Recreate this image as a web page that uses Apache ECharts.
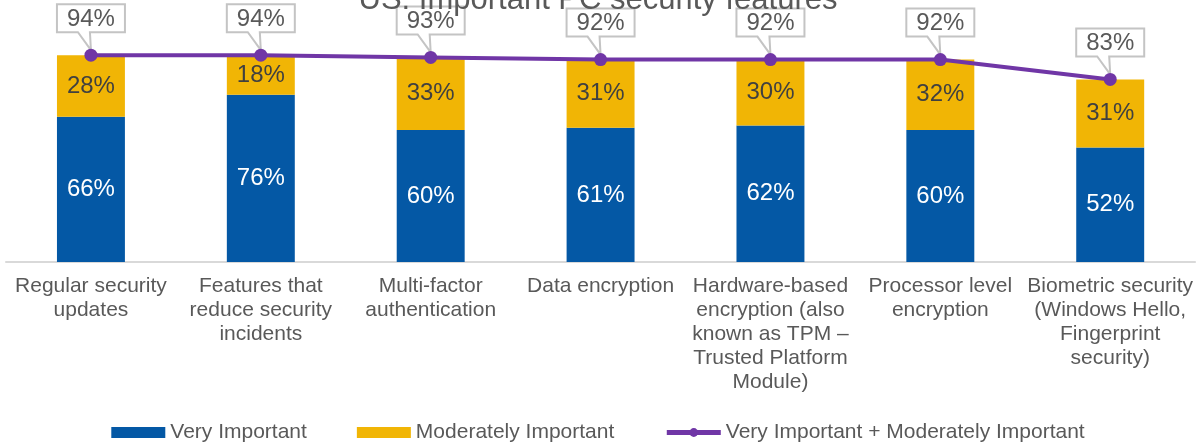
<!DOCTYPE html>
<html>
<head>
<meta charset="utf-8">
<title>Important PC security features</title>
<script src="https://cdn.jsdelivr.net/npm/echarts@6/dist/echarts.min.js"></script>
<style>
    html, body { margin: 0; padding: 0; background: #fff; }
    #chart { width: 1196px; height: 448px; }
</style>
</head>
<body>
<div id="chart"></div>
<script>
    // data
    var categories = [
        'Regular security\nupdates',
        'Features that\nreduce security\nincidents',
        'Multi-factor\nauthentication',
        'Data encryption',
        'Hardware-based\nencryption (also\nknown as TPM \u2013\nTrusted Platform\nModule)',
        'Processor level\nencryption',
        'Biometric security\n(Windows Hello,\nFingerprint\nsecurity)'
    ];
    var veryImportant = [66, 76, 60, 61, 62, 60, 52];
    var moderatelyImportant = [28, 18, 33, 31, 30, 32, 31];
    var combined = [94, 94, 93, 92, 92, 92, 83];

    var font = 'Liberation Sans, Arial, sans-serif';
    var chart = echarts.init(document.getElementById('chart'));

    // callout box with a little tail pointing at the line marker
    function renderCallout(params, api) {
        var p = api.coord([api.value(0), api.value(1)]);
        var x = p[0], y = p[1];
        var L = x - 34, R = x + 34, T = y - 51, B = y - 23;
        return {
            type: 'group',
            children: [
                {
                    type: 'polygon',
                    shape: { points: [[L, T], [R, T], [R, B], [x - 1, B], [x, y - 5], [x - 13, B], [L, B]] },
                    style: { fill: '#fff', stroke: '#c4c4c4', lineWidth: 2 }
                },
                {
                    type: 'text',
                    style: {
                        text: api.value(1) + '%',
                        x: x, y: (T + B) / 2 + 1,
                        align: 'center', verticalAlign: 'middle',
                        font: '24px ' + font, fill: '#595959'
                    }
                }
            ]
        };
    }

    var option = {
        animation: false,
        textStyle: { fontFamily: font },
        title: {
            text: 'US: Important PC security features',
            left: 'center',
            top: -20,
            textStyle: { fontSize: 31, fontWeight: 'normal', color: '#595959', fontFamily: font }
        },
        legend: {
            bottom: 0,
            left: 'center',
            itemGap: 50,
            itemWidth: 54,
            itemHeight: 11,
            textStyle: { fontSize: 21, color: '#595959', fontFamily: font },
            lineStyle: { width: 5 },
            data: [
                { name: 'Very Important', icon: 'rect' },
                { name: 'Moderately Important', icon: 'rect' },
                { name: 'Very Important + Moderately Important' }
            ]
        },
        grid: { left: 6, right: 0, top: 42, height: 220 },
        xAxis: {
            type: 'category',
            data: categories,
            axisTick: { show: false },
            axisLine: { lineStyle: { color: '#d9d9d9', width: 2 } },
            axisLabel: {
                interval: 0,
                margin: 12,
                fontSize: 21,
                lineHeight: 24,
                color: '#595959',
                fontFamily: font
            }
        },
        yAxis: {
            type: 'value',
            min: 0,
            max: 100,
            show: false,
            splitLine: { show: false }
        },
        series: [
            {
                name: 'Very Important',
                type: 'bar',
                stack: 'total',
                barWidth: '40%',
                itemStyle: { color: '#0458A5' },
                label: {
                    show: true, position: 'inside', formatter: '{c}%',
                    color: '#fff', fontSize: 24, fontFamily: font
                },
                data: veryImportant
            },
            {
                name: 'Moderately Important',
                type: 'bar',
                stack: 'total',
                barWidth: '40%',
                itemStyle: { color: '#F1B505' },
                label: {
                    show: true, position: 'inside', formatter: '{c}%',
                    color: '#404040', fontSize: 24, fontFamily: font
                },
                data: moderatelyImportant
            },
            {
                name: 'callouts',
                type: 'custom',
                z: 3,
                renderItem: renderCallout,
                encode: { x: 0, y: 1 },
                data: combined.map(function (v, i) { return [i, v]; })
            },
            {
                name: 'Very Important + Moderately Important',
                type: 'line',
                z: 4,
                symbol: 'circle',
                symbolSize: 13,
                lineStyle: { color: '#7036A6', width: 4 },
                itemStyle: { color: '#7036A6' },
                data: combined
            }
        ]
    };
    chart.setOption(option);
</script>
</body>
</html>
